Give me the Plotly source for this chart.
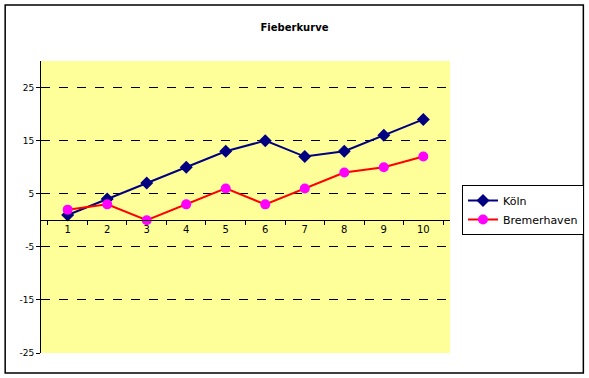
import plotly.graph_objects as go

categories = ["1", "2", "3", "4", "5", "6", "7", "8", "9", "10"]
koeln = [1, 4, 7, 10, 13, 15, 12, 13, 16, 19]
bremerhaven = [2, 3, 0, 3, 6, 3, 6, 9, 10, 12]
y_ticks = [-25, -15, -5, 5, 15, 25]
y_tick_labels = ["-25", "-15", "-5", "5", "15", "25"]
y_range = [-25, 30]

W, H = 589, 378
L, R, T, B = 41, 137, 61, 25
pw, ph = W - L - R, H - T - B

def px_x(p):
    return (p - L) / pw

def px_y(p):
    return (H - B - p) / ph

fig = go.Figure()
fig.add_trace(go.Scatter(
    x=categories, y=koeln, name="Köln", mode="lines+markers",
    line=dict(color="#000080", width=2),
    marker=dict(symbol="diamond", size=10, color="#000080"),
))
fig.add_trace(go.Scatter(
    x=categories, y=bremerhaven, name="Bremerhaven", mode="lines+markers",
    line=dict(color="#FF0000", width=2),
    marker=dict(symbol="circle", size=10, color="#FF00FF"),
))

font = "Tahoma, Verdana, 'DejaVu Sans', sans-serif"
legend_font = "Tahoma, 'DejaVu Sans', sans-serif"
fig.update_layout(
    width=W, height=H,
    margin=dict(l=L, r=R, t=T, b=B, pad=0),
    paper_bgcolor="white",
    plot_bgcolor="#FFFF99",
    font=dict(family=font, size=9, color="black"),
    title=dict(text="<b>Fieberkurve</b>", x=0.5, xref="container", xanchor="center",
               y=1 - 27 / H, yanchor="middle", font=dict(size=10, color="black")),
    showlegend=True,
    legend=dict(xref="container", yref="container",
                x=462 / W, y=1 - 185 / H, xanchor="left", yanchor="top",
                bordercolor="black", borderwidth=1, bgcolor="white",
                font=dict(size=11, family=legend_font), itemwidth=30,
                tracegroupgap=0),
    xaxis=dict(type="category", anchor="free",
               position=(0 - y_range[0]) / (y_range[1] - y_range[0]),
               showline=True, linecolor="black", linewidth=1,
               ticks="outside", ticklen=4, tickcolor="black", tickson="boundaries",
               showgrid=False, zeroline=False, fixedrange=True,
               tickfont=dict(size=10)),
    yaxis=dict(range=y_range, tickvals=y_ticks, ticktext=y_tick_labels,
               showline=True, linecolor="black",
               linewidth=1, ticks="outside", ticklen=4, tickcolor="black",
               showgrid=True, gridcolor="black", gridwidth=1, griddash="dash",
               zeroline=False, tickfont=dict(size=9)),
    shapes=[dict(type="rect", xref="paper", yref="paper",
                 x0=px_x(5), x1=px_x(586), y0=px_y(373), y1=px_y(5),
                 line=dict(color="black", width=1.5), layer="below")],
)

fig.write_html("out.html", config={"displayModeBar": False},
               post_script="document.body.style.margin='0';document.body.style.overflow='hidden';")
